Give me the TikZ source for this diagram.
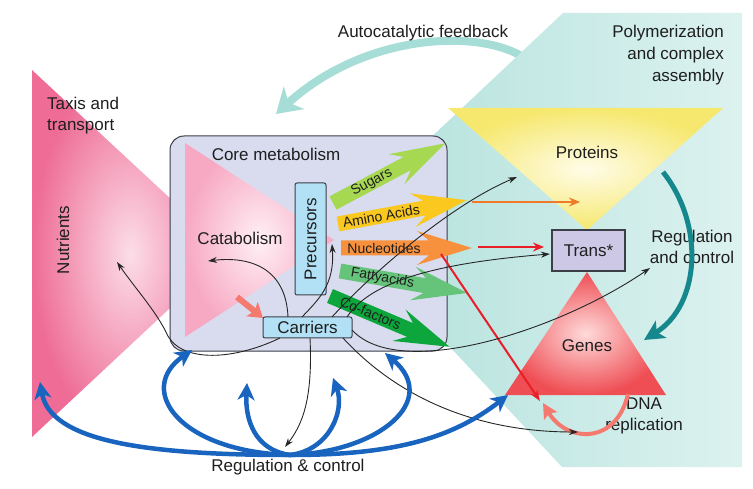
\documentclass[tikz,border=0pt]{standalone}
\usepackage{fontspec}
\setmainfont{Liberation Sans}
\usetikzlibrary{arrows.meta}
\definecolor{txt}{RGB}{30,30,30}
\definecolor{tealL}{RGB}{176,224,219}
\definecolor{tealR}{RGB}{220,242,239}
\definecolor{bandc}{RGB}{166,221,215}
\definecolor{corefill}{RGB}{216,220,238}
\definecolor{boxline}{RGB}{60,62,72}
\definecolor{carrierblue}{RGB}{178,224,245}
\definecolor{transfill}{RGB}{205,200,230}
\definecolor{nutedge}{RGB}{238,108,150}
\definecolor{nutcenter}{RGB}{252,222,232}
\definecolor{catedge}{RGB}{247,168,194}
\definecolor{catcenter}{RGB}{255,240,245}
\definecolor{proedge}{RGB}{246,232,110}
\definecolor{procenter}{RGB}{255,252,232}
\definecolor{genedge}{RGB}{238,78,84}
\definecolor{gencenter}{RGB}{255,218,218}
\definecolor{csugar}{RGB}{166,216,82}
\definecolor{camino}{RGB}{250,200,30}
\definecolor{cnucl}{RGB}{248,145,62}
\definecolor{cfatty}{RGB}{102,196,122}
\definecolor{ccofac}{RGB}{12,166,60}
\definecolor{redline}{RGB}{234,30,40}
\definecolor{orangeline}{RGB}{240,122,40}
\definecolor{regblue}{RGB}{24,100,190}
\definecolor{darkteal}{RGB}{20,136,140}
\definecolor{salmon}{RGB}{244,122,112}
\newcommand{\metarrow}[7]{%
  \begin{scope}[shift={(#2)}, rotate=#3]
    \fill[#5] (0,-7.5) -- ({#4-43},-7.5) -- ({#4-55},-17) -- (#4,0) -- ({#4-55},17) -- ({#4-43},7.5) -- (0,7.5) -- cycle;
    \node[metlabel, rotate=#3] (#1) at (#7,0) {#6};
  \end{scope}}
\begin{document}
\begin{tikzpicture}[x=1pt,y=-1pt,
  lbl/.style={font=\fontsize{17}{21}\selectfont, text=txt, inner sep=0pt},
  metlabel/.style={font=\fontsize{14}{16}\selectfont, text=txt, inner sep=0pt},
  conn/.style={draw=black!85, line width=0.9pt, -{Stealth[length=9pt,width=6pt]}},
  regarrow/.style={draw=regblue, line width=4.5pt, -{Stealth[length=17pt,width=17pt,inset=5pt]}},
  smallbox/.style={draw=boxline, line width=1pt, rounded corners=2pt, fill=carrierblue, inner sep=0pt},
]
\useasboundingbox (0,0) rectangle (753,489);

% autocatalytic band (under teal)
\coordinate (autoS) at (540,75);
\coordinate (autoE) at (276,114);
\draw[draw=bandc, line width=8pt, -{Stealth[length=24pt,width=30pt,inset=7pt]}]
  (autoS) .. controls (520,30) and (380,20) .. (autoE);

% teal background
\shade[left color=tealL, right color=tealR]
  (563,13) -- (742,13) -- (742,467) -- (562,467) -- (337,226) -- cycle;

% nutrients triangle
\shade[inner color=nutcenter, outer color=nutedge] (32,70) -- (229,253) -- (32,437) -- cycle;

% core metabolism box
\node[draw=boxline, line width=1pt, fill=corefill, rounded corners=14pt,
  minimum width=277pt, minimum height=215pt, inner sep=0pt] (core) at (308.5,243.5) {};

% catabolism triangle
\shade[inner color=catcenter, outer color=catedge] (185,143) -- (334,240) -- (185,337) -- cycle;

% metabolite block arrows
\metarrow{sugars}{333,203}{28}{127}{csugar}{Sugars}{44}
\metarrow{amino}{338,224}{10.5}{131}{camino}{Amino Acids}{44}
\metarrow{nucl}{341,248}{0}{131}{cnucl}{Nucleotides}{43}
\metarrow{fatty}{340,271}{-9.8}{129}{cfatty}{Fattyacids}{43}
\metarrow{cofac}{330,296}{-23}{130}{ccofac}{Co-factors}{44}

% boxes
\node[smallbox, minimum width=112pt, minimum height=31pt, rotate=90, lbl] (prec) at (310.5,239) {Precursors};
\node[smallbox, minimum width=89pt, minimum height=21pt, lbl] (carriers) at (307.5,327.5) {Carriers};

% proteins, genes, trans
\shade[inner color=procenter, outer color=proedge] (448,108) -- (723,108) -- (587,230) -- cycle;
\shade[inner color=gencenter, outer color=genedge] (587,272) -- (666,395) -- (505,395) -- cycle;
\node[draw=boxline, line width=1.2pt, fill=transfill, minimum width=73pt, minimum height=41pt, inner sep=0pt, lbl] (trans) at (588.5,250.5) {Trans*};

% labels
\node[lbl] (autolbl) at (423,33) {Autocatalytic feedback};
\node[lbl, align=right, anchor=east, font=\fontsize{17}{22}\selectfont] (poly) at (724,55) {Polymerization\\and complex\\assembly};
\node[lbl, align=left, anchor=west] (taxis) at (47,115.5) {Taxis and\\transport};
\node[lbl, rotate=90] (nutr) at (63,240) {Nutrients};
\node[lbl] (corelbl) at (276,154) {Core metabolism};
\node[lbl] (catab) at (240,238) {Catabolism};
\node[lbl] (prot) at (587,152) {Proteins};
\node[lbl] (genes) at (587,346) {Genes};
\node[lbl, align=center] (regctl) at (692,246.5) {Regulation\\and control};
\node[lbl, align=center] (dnarep) at (644,416) {DNA\\replication};
\node[lbl] (regbot) at (288,467) {Regulation \& control};

% coordinates
\coordinate (hub) at (290,455);
\coordinate (tipNut) at (40,382);
\coordinate (tipCoreL) at (192,350);
\coordinate (tipUp1) at (247,383);
\coordinate (tipUp2) at (333,378);
\coordinate (tipCoreB) at (385,353);
\coordinate (tipGenes) at (508,395);
\coordinate (cat2car) at (237,297);
\coordinate (car1) at (263,318);

% salmon arrow catabolism -> carriers
\draw[draw=salmon, line width=6pt, -{Stealth[length=14pt,width=18pt,inset=3pt]}] (cat2car) -- (car1);

% coloured straight arrows
\coordinate (aaE) at (472,202);
\coordinate (aaT) at (580,202);
\draw[draw=orangeline, line width=2.5pt, -{Stealth[length=11pt,width=9pt]}] (aaE) -- (aaT);
\coordinate (nuE) at (478,247);
\coordinate (nuT) at (544,247);
\draw[draw=redline, line width=2.5pt, -{Stealth[length=11pt,width=9pt]}] (nuE) -- (nuT);
\coordinate (nuD) at (441,254);
\coordinate (genB) at (540,401);
\draw[draw=redline, line width=2pt, -{Stealth[length=11pt,width=8pt]}] (nuD) -- (genB);

% DNA replication arrow
\coordinate (dnaS) at (628,394);
\coordinate (dnaE) at (543,403);
\draw[draw=salmon, line width=4pt, -{Stealth[length=15pt,width=15pt,inset=3pt]}]
  (dnaS) .. controls (616,446) and (566,442) .. (dnaE);

% dark teal regulation arrow
\coordinate (rcS) at (663,172);
\coordinate (rcE) at (644,340);
\draw[draw=darkteal, line width=5pt, -{Stealth[length=20pt,width=20pt,inset=5pt]}]
  (rcS) .. controls (705,225) and (700,305) .. (rcE);

% black connectors
\coordinate (cTop1) at (288,317);
\coordinate (catT) at (208,261);
\draw[conn] (cTop1) .. controls (286,268) and (250,256) .. (catT);
\coordinate (cTop2) at (302,317);
\coordinate (precT) at (332,244);
\draw[conn] (cTop2) .. controls (318,300) and (335,285) .. (precT);
\coordinate (cTop3) at (332,317);
\coordinate (protT) at (517,177);
\draw[conn] (cTop3) .. controls (370,275) and (450,205) .. (protT);
\coordinate (cTop4) at (347,317);
\coordinate (transT) at (550,254);
\draw[conn] (cTop4) .. controls (365,290) and (410,265) .. (transT);
\coordinate (cRight) at (352,330);
\coordinate (regT) at (650,268);
\draw[conn] (cRight) .. controls (400,382) and (560,330) .. (regT);
\coordinate (cBR) at (343,338);
\coordinate (dnaT) at (578,432);
\draw[conn] (cBR) .. controls (400,400) and (480,432) .. (dnaT);
\coordinate (cBot) at (310,338);
\coordinate (botT) at (285,447);
\draw[conn] (cBot) .. controls (313,400) and (302,425) .. (botT);
\coordinate (cBL) at (280,338);
\coordinate (nutT) at (117,262);
\draw[conn] (cBL) .. controls (230,362) and (178,362) .. (166,332) .. controls (155,310) and (135,288) .. (nutT);

% blue regulation arrows
\draw[regarrow] (hub) .. controls (140,455) and (50,440) .. (tipNut);
\draw[regarrow] (hub) .. controls (180,452) and (135,390) .. (tipCoreL);
\draw[regarrow] (hub) .. controls (255,450) and (245,420) .. (tipUp1);
\draw[regarrow] (hub) .. controls (330,450) and (345,410) .. (tipUp2);
\draw[regarrow] (hub) .. controls (380,452) and (440,400) .. (tipCoreB);
\draw[regarrow] (hub) .. controls (390,455) and (450,440) .. (tipGenes);
\end{tikzpicture}
\end{document}
